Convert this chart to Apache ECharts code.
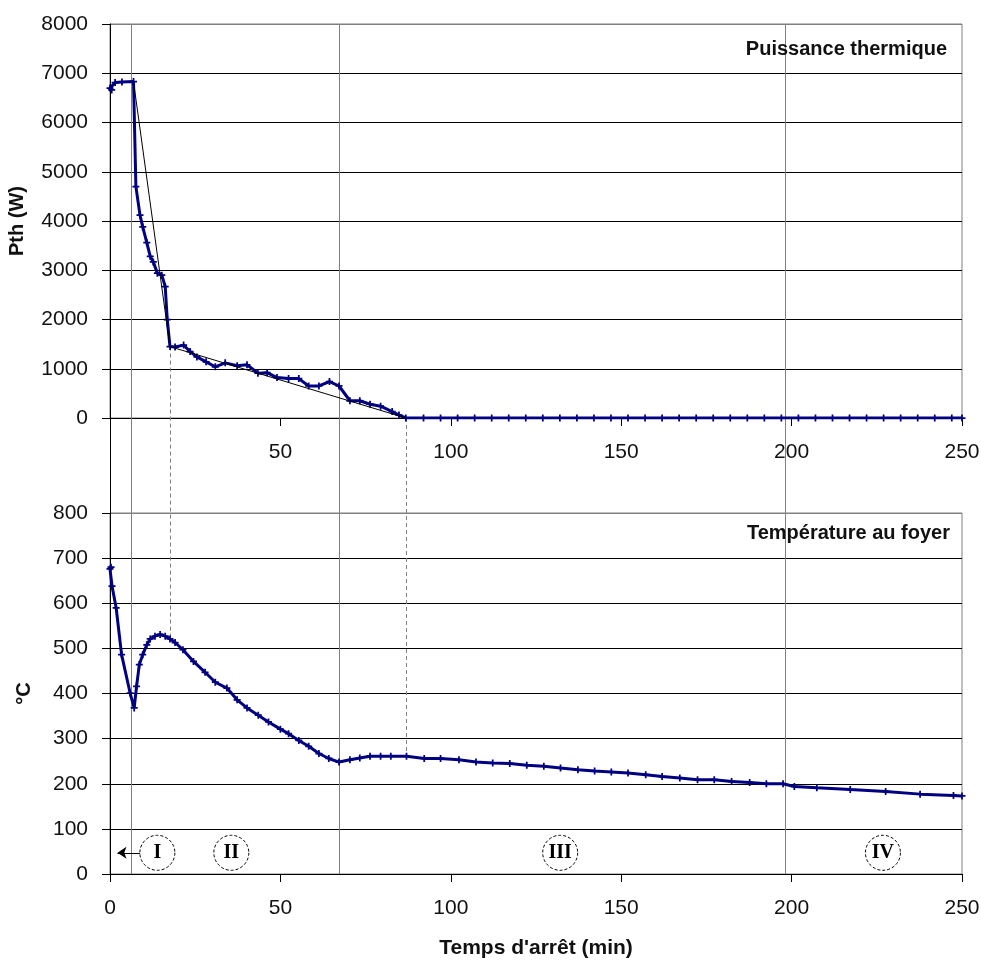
<!DOCTYPE html>
<html><head><meta charset="utf-8">
<script src="https://cdn.jsdelivr.net/npm/echarts@6/dist/echarts.min.js"></script>
<style>html,body{margin:0;padding:0;background:#fff}#c{width:981px;height:964px}</style>
</head><body><div id="c"></div>
<script>
// ---- data ----
const powerTime = [0, 0.5, 1.5, 3.5, 6.9, 7.6, 8.8, 9.6, 10.8, 11.8, 12.7, 13.9, 15.2, 16.2, 16.8, 17.6, 19.1, 21.6, 23.5, 25.5, 28.2, 30.9, 33.8, 37.3, 40.2, 43.4, 46.1, 49.0, 52.4, 55.4, 58.3, 61.3, 64.4, 67.2, 70.4, 73.3, 76.3, 79.4, 82.8, 84.8, 86.8,
  92, 97, 102, 107, 112, 117, 122, 127, 132, 137, 142, 147, 152, 157, 162, 167, 172, 177, 182, 187, 192, 197, 202, 207, 212, 217, 222, 227, 232, 237, 242, 247, 250];
const powerValues = [6700, 6660, 6810, 6820, 6830, 4700, 4120, 3880, 3560, 3280, 3170, 2940, 2900, 2670, 2000, 1450, 1440, 1480, 1350, 1240, 1140, 1040, 1120, 1060, 1080, 910, 920, 820, 800, 800, 650, 650, 740, 650, 350, 350, 280, 240, 130, 60, 0,
  0, 0, 0, 0, 0, 0, 0, 0, 0, 0, 0, 0, 0, 0, 0, 0, 0, 0, 0, 0, 0, 0, 0, 0, 0, 0, 0, 0, 0, 0, 0, 0, 0];
const trendTime = [6.9, 17.6, 86.8];
const trendValues = [6830, 1450, 0];
const tempTime = [0, 0.3, 0.6, 1.8, 3.4, 5.9, 7.1, 7.8, 8.6, 9.6, 10.8, 11.8, 13.2, 14.7, 16.2, 17.6, 19.1, 21.4, 24.5, 27.9, 30.9, 34.3, 37.3, 40.2, 43.5, 46.5, 50, 52.4, 55.4, 58.3, 61.3, 64.2, 67.2, 70.4, 73.3, 76.3, 79.4, 82.4, 87, 92.2, 97, 102.4, 107.4, 112.3, 117.3, 122.3, 127.3, 132.2, 137.3, 142.2, 147.1, 152, 157.2, 162, 167.2, 172.4, 177.3, 182.4, 187.7, 192.6, 197.5, 200.8, 207.4, 217.2, 227.6, 237.7, 247.5, 250];
const tempValues = [676, 680, 638, 590, 486, 401, 368, 416, 464, 486, 508, 521, 527, 531, 527, 521, 513, 497, 471, 447, 425, 412, 386, 368, 352, 337, 321, 311, 296, 283, 267, 256, 248, 253, 257, 261, 261, 261, 261, 256, 256, 253, 248, 246, 245, 241, 239, 235, 231, 228, 226, 224, 220, 216, 213, 209, 209, 205, 203, 200, 200, 194, 191, 187, 183, 177, 174, 173];
const phaseBounds = [6.1, 67.1, 198];
const linkTime = [17.6, 86.8];
const linkPower = [1450, 0];
const linkTemp = [521, 261];
const phaseNames = ['I', 'II', 'III', 'IV'];
const phaseNameTime = [13.9, 35.6, 132.1, 226.8];
const phaseNameTemp = 47;
const arrowFrom = [8.8, 47];
const arrowTo = [2.2, 47];
const xTicks = [0, 50, 100, 150, 200, 250];
const powerTicks = [0, 1000, 2000, 3000, 4000, 5000, 6000, 7000, 8000];
const tempTicks = [0, 100, 200, 300, 400, 500, 600, 700, 800];

// ---- chart ----
const FONT = "'Liberation Sans', Arial, sans-serif";
const PLUS = 'path://M3,0H5V3H8V5H5V8H3V5H0V3H3Z';
const NAVY = '#000080';
const chart = echarts.init(document.getElementById('c'), null, {renderer: 'canvas'});

function xAxisOpt(idx, showZero, name) {
  return {
    type: 'value', gridIndex: idx, min: xTicks[0], max: xTicks[xTicks.length - 1], interval: xTicks[1] - xTicks[0],
    axisLine: {show: true, onZero: false, lineStyle: {color: '#000', width: 1}},
    axisTick: {show: true, length: 8, inside: false, lineStyle: {color: '#000'}},
    axisLabel: {show: true, margin: 24, fontSize: 21, fontFamily: FONT, color: '#111',
      formatter: v => (v === 0 && !showZero) ? '' : String(v)},
    splitLine: {show: false},
    name: name || '', nameLocation: 'middle', nameGap: 64,
    nameTextStyle: {fontSize: 21, fontWeight: 'bold', fontFamily: FONT, color: '#111'}
  };
}
function yAxisOpt(idx, ticks, name, gap) {
  const colors = ticks.map((t, i) => i === ticks.length - 1 ? '#808080' : '#000');
  return {
    type: 'value', gridIndex: idx, min: ticks[0], max: ticks[ticks.length - 1], interval: ticks[1] - ticks[0],
    axisLine: {show: true, lineStyle: {color: '#000', width: 1}},
    axisTick: {show: true, length: 8, lineStyle: {color: '#000'}},
    axisLabel: {show: true, margin: 22, fontSize: 21, fontFamily: FONT, color: '#111', formatter: v => String(v)},
    splitLine: {show: true, lineStyle: {color: colors, width: 1}},
    name: name, nameLocation: 'middle', nameRotate: 90, nameGap: gap,
    nameTextStyle: {fontSize: 20, fontWeight: 'bold', fontFamily: FONT, color: '#111'}
  };
}

chart.setOption({
  animation: false,
  backgroundColor: '#fff',
  title: [
    {text: 'Puissance thermique', right: 34, top: 39, padding: 0,
      textStyle: {fontSize: 20, fontWeight: 'bold', fontFamily: FONT, color: '#111'}},
    {text: 'Température au foyer', right: 31, top: 523, padding: 0,
      textStyle: {fontSize: 20, fontWeight: 'bold', fontFamily: FONT, color: '#111'}}
  ],
  grid: [
    {left: 110, right: 19, top: 24, height: 394, containLabel: false, outerBoundsMode: 'none',
      show: true, borderColor: '#808080', borderWidth: 1, backgroundColor: 'transparent'},
    {left: 110, right: 19, top: 513, height: 361, containLabel: false, outerBoundsMode: 'none',
      show: true, borderColor: '#808080', borderWidth: 1, backgroundColor: 'transparent'}
  ],
  xAxis: [xAxisOpt(0, false, ''), xAxisOpt(1, true, "Temps d'arrêt (min)")],
  yAxis: [yAxisOpt(0, powerTicks, 'Pth (W)', 83), yAxisOpt(1, tempTicks, '°C', 76)],
  series: [
    {type: 'line', xAxisIndex: 0, yAxisIndex: 0, z: 3,
      data: powerTime.map((t, i) => [t, powerValues[i]]),
      symbol: PLUS, symbolSize: 7, showSymbol: true,
      lineStyle: {color: NAVY, width: 3}, itemStyle: {color: NAVY}},
    {type: 'line', xAxisIndex: 0, yAxisIndex: 0, z: 4,
      data: trendTime.map((t, i) => [t, trendValues[i]]),
      symbol: 'none', lineStyle: {color: '#000', width: 1}},
    {type: 'line', xAxisIndex: 1, yAxisIndex: 1, z: 3,
      data: tempTime.map((t, i) => [t, tempValues[i]]),
      symbol: PLUS, symbolSize: 7, showSymbol: true,
      lineStyle: {color: NAVY, width: 3}, itemStyle: {color: NAVY}},
    {type: 'scatter', xAxisIndex: 1, yAxisIndex: 1, z: 5,
      data: phaseNames.map((n, i) => ({name: n, value: [phaseNameTime[i], phaseNameTemp]})),
      symbol: 'circle', symbolSize: 35,
      itemStyle: {color: '#fff', borderColor: '#000', borderWidth: 1, borderType: [3, 2], opacity: 1},
      label: {show: true, position: 'inside', formatter: '{b}', fontFamily: "'Liberation Serif', 'Times New Roman', serif",
        fontWeight: 'bold', fontSize: 20, color: '#000'},
      markLine: {silent: true, symbol: ['none', 'arrow'], symbolSize: 9, label: {show: false},
        lineStyle: {color: '#000', width: 1, type: 'solid'},
        data: [[{coord: arrowFrom}, {coord: arrowTo}]]}
    }
  ]
});

// lines that cross both plots, positioned through the axes' own scales
const g = [];
const px = v => Math.round(v) + 0.5;
phaseBounds.forEach(t => {
  const a = chart.convertToPixel({gridIndex: 0}, [t, powerTicks[powerTicks.length - 1]]);
  const b = chart.convertToPixel({gridIndex: 1}, [t, tempTicks[0]]);
  g.push({type: 'line', z: 1, silent: true, shape: {x1: px(a[0]), y1: a[1], x2: px(b[0]), y2: b[1]},
    style: {stroke: '#808080', lineWidth: 1}});
});
linkTime.forEach((t, i) => {
  const a = chart.convertToPixel({gridIndex: 0}, [t, linkPower[i]]);
  const b = chart.convertToPixel({gridIndex: 1}, [t, linkTemp[i]]);
  g.push({type: 'line', z: 1, silent: true, shape: {x1: px(a[0]), y1: a[1], x2: px(b[0]), y2: b[1]},
    style: {stroke: '#808080', lineWidth: 1, lineDash: [4, 3]}});
});
{
  const a = chart.convertToPixel({gridIndex: 0}, [xTicks[0], powerTicks[0]]);
  const b = chart.convertToPixel({gridIndex: 1}, [xTicks[0], tempTicks[tempTicks.length - 1]]);
  g.push({type: 'line', z: 1, silent: true, shape: {x1: px(a[0]), y1: a[1], x2: px(b[0]), y2: b[1]},
    style: {stroke: '#000', lineWidth: 1}});
}
chart.setOption({graphic: g});
</script>
</body></html>
